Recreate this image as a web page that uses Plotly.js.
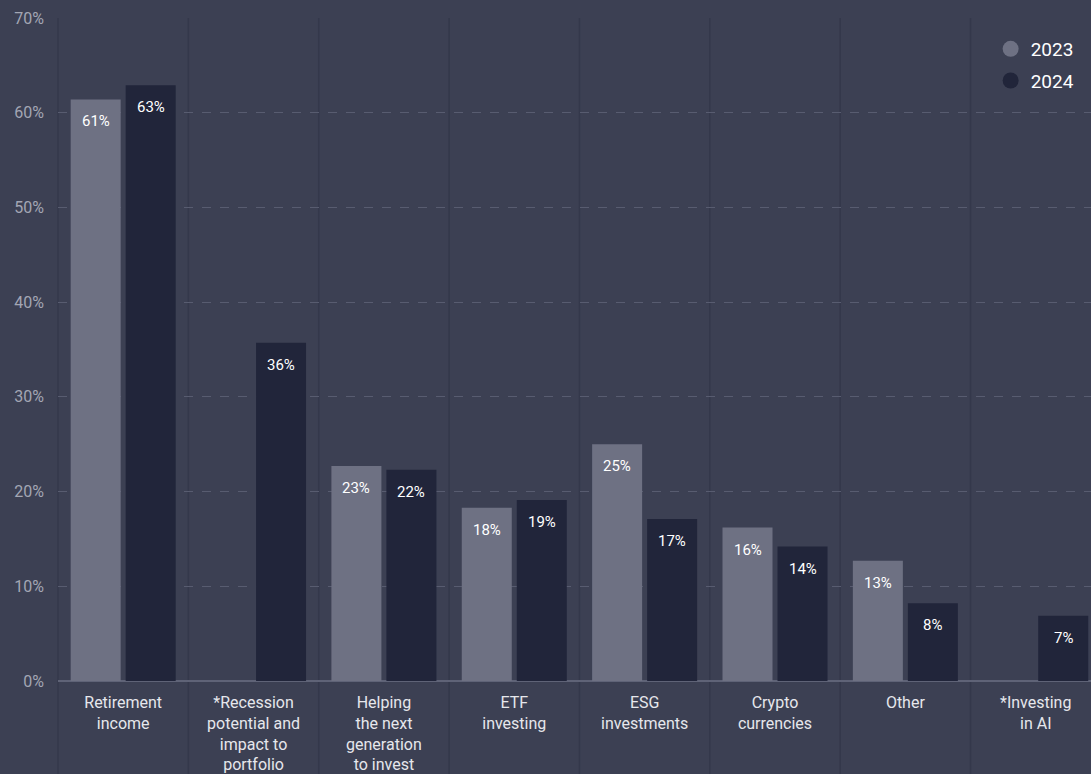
<!DOCTYPE html>
<html>
<head>
<meta charset="utf-8">
<script src="https://cdn.plot.ly/plotly-3.0.1.min.js"></script>
<style>
  html, body { margin: 0; padding: 0; background: #3c4053; }
  #chart { width: 1091px; height: 774px; }
</style>
</head>
<body>
<div id="chart"></div>
<script>
const categories = [
  "Retirement<br>income",
  "*Recession<br>potential and<br>impact to<br>portfolio",
  "Helping<br>the next<br>generation<br>to invest",
  "ETF<br>investing",
  "ESG<br>investments",
  "Crypto<br>currencies",
  "Other",
  "*Investing<br>in AI"
];
const values2023 = [61.4, null, 22.7, 18.3, 25.0, 16.2, 12.7, null];
const values2024 = [62.9, 35.7, 22.3, 19.1, 17.1, 14.2, 8.2, 6.9];
const seriesNames = ["2023", "2024"];
const seriesColors = ["#6e7183", "#21253a"];
const yTicks = [0, 10, 20, 30, 40, 50, 60, 70];
const yTickLabels = ["0%", "10%", "20%", "30%", "40%", "50%", "60%", "70%"];

const bg = "#3c4053";
const series = [values2023, values2024];
const xMax = 7.424; // last category partly cut off at right edge, as in the reference

const traces = series.map((vals, i) => ({
  type: "bar",
  name: seriesNames[i],
  x: categories,
  y: vals,
  marker: { color: seriesColors[i] },
  showlegend: false,
  hoverinfo: "skip"
}));

seriesNames.forEach((n, i) => {
  traces.push({
    type: "scatter",
    mode: "markers",
    name: n,
    x: [null],
    y: [null],
    legendgroup: "g" + i,
    marker: { color: seriesColors[i], size: 18, symbol: "circle" },
    showlegend: true
  });
});

const annotations = [];
series.forEach((vals, i) => {
  vals.forEach((v, j) => {
    if (v === null) return;
    annotations.push({
      x: categories[j],
      y: v,
      xref: "x",
      yref: "y",
      xshift: i === 0 ? -27.5 : 27.5,
      yshift: -11,
      yanchor: "top",
      xanchor: "center",
      showarrow: false,
      text: Math.round(v) + "%",
      font: { family: "Roboto", size: 15, color: "#ffffff" }
    });
  });
});

const shapes = [];
for (let k = 0; k < categories.length; k++) {
  shapes.push({
    type: "line",
    xref: "paper",
    yref: "paper",
    x0: k / (xMax + 0.5),
    x1: k / (xMax + 0.5),
    y0: -0.2,
    y1: 1,
    line: { color: "#34384b", width: 1.5 },
    layer: "below"
  });
}

const layout = {
  width: 1091,
  height: 774,
  margin: { l: 58, r: 0, t: 18, b: 93 },
  paper_bgcolor: bg,
  plot_bgcolor: bg,
  font: { family: "Roboto", color: "#ffffff" },
  barmode: "group",
  bargap: 0.156,
  bargroupgap: 0.091,
  xaxis: {
    type: "category",
    range: [-0.5, xMax],
    showgrid: false,
    zeroline: false,
    showline: false,
    ticks: "",
    ticklabelstandoff: 10,
    tickfont: { family: "Roboto", size: 16, color: "#e6e7ec" },
    fixedrange: true
  },
  yaxis: {
    range: [0, 70],
    tickmode: "array",
    tickvals: yTicks,
    ticktext: yTickLabels,
    showgrid: true,
    gridcolor: "#585c70",
    griddash: "dash",
    gridwidth: 1,
    zeroline: true,
    zerolinecolor: "#5f6377",
    zerolinewidth: 2,
    showline: false,
    ticks: "",
    ticklabelstandoff: 13,
    tickfont: { family: "Roboto", size: 16, color: "#a3a6b3" },
    fixedrange: true
  },
  legend: {
    x: 0.989,
    y: 0.982,
    xanchor: "right",
    yanchor: "top",
    bgcolor: "rgba(0,0,0,0)",
    font: { family: "Roboto", size: 19, color: "#ffffff" },
    traceorder: "grouped",
    tracegroupgap: 4,
    itemwidth: 30
  },
  annotations: annotations,
  shapes: shapes
};

Plotly.newPlot("chart", traces, layout, { staticPlot: true, displayModeBar: false });
</script>
</body>
</html>
